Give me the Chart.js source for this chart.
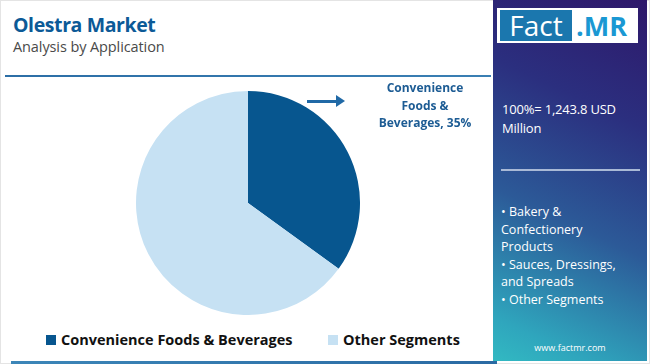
<!DOCTYPE html>
<html>
<head>
<meta charset="utf-8">
<script src="https://cdn.jsdelivr.net/npm/chart.js@4"></script>
<style>
  html, body { margin:0; padding:0; }
  body { width:650px; height:364px; position:relative; overflow:hidden; background:#fff; font-family:"Open Sans", sans-serif; }
  .frame { position:absolute; left:0; top:0; width:648px; height:362px; border:1px solid #e4e4e4; }
  .title { position:absolute; left:13px; top:11px; font-size:19.5px; font-weight:700; color:#0c5a97; letter-spacing:-0.4px; }
  .subtitle { position:absolute; left:13px; top:37px; font-size:14.5px; color:#4a4a4a; letter-spacing:-0.1px; }
  .hline { position:absolute; left:5px; top:75px; width:486px; height:2px; background:linear-gradient(90deg,#2c6ea6,#3a7fb3); }
  .bline { position:absolute; left:11px; top:361px; width:486px; height:3px; background:linear-gradient(90deg,#3c86b8,#2a6aa3); }
  #wrap { position:absolute; left:136px; top:91px; width:224px; height:224px; }
  .arrow { position:absolute; left:307px; top:100px; width:32px; height:3px; background:#2069a6; }
  .arrowhead { position:absolute; left:336px; top:95px; width:0; height:0; border-top:6.5px solid transparent; border-bottom:6.5px solid transparent; border-left:9px solid #2069a6; }
  .callout { position:absolute; left:360px; top:79px; width:130px; text-align:center; font-size:12px; font-weight:700; color:#1d5c94; line-height:17.5px; }
  .legend { position:absolute; top:330px; left:0; width:492px; height:20px; font-size:14.5px; font-weight:700; color:#111; }
  .legend .item { position:absolute; top:0; white-space:nowrap; }
  .legend .sw { display:inline-block; width:10px; height:10px; vertical-align:middle; margin-right:5px; position:relative; top:-1px; }
  .panel { position:absolute; left:493px; top:0; width:154px; height:361px; background:linear-gradient(205deg,#2e186a 0%,#2b2f7f 30%,#2c5a98 60%,#2fa6bd 90%,#32b9c2 100%); }
  .logo { position:absolute; left:4px; top:8px; width:141px; height:35px; background:#fff; }
  .logo .fact { position:absolute; left:3px; top:2px; width:72px; height:31px; background:#1b77ae; color:#fff; font-size:28px; line-height:31px; text-align:center; }
  .logo .mr { position:absolute; left:79px; top:2px; height:31px; color:#1a98d3; font-size:27px; line-height:31px; font-weight:700; }
  .total { position:absolute; left:9px; top:100px; color:#fff; font-size:13px; line-height:19px; letter-spacing:-0.2px; }
  .sep { position:absolute; left:8px; top:169px; width:139px; height:2px; background:#a9b9d6; }
  .segs { position:absolute; left:8px; top:203px; color:#fff; font-size:12.5px; line-height:17.5px; }
  .url { position:absolute; left:0; width:154px; top:341px; text-align:center; color:#fff; font-size:9px; }
</style>
</head>
<body>
<div class="frame"></div>
<div class="title">Olestra Market</div>
<div class="subtitle">Analysis by Application</div>
<div class="hline"></div>
<div id="wrap"><canvas id="pie" width="224" height="224"></canvas></div>
<div class="arrow"></div><div class="arrowhead"></div>
<div class="callout" id="callout"></div>
<div class="legend" id="legend"></div>
<div class="bline"></div>
<div class="panel">
  <div class="logo"><div class="fact">Fact</div><div class="mr">.MR</div></div>
  <div class="total">100%= 1,243.8 USD<br>Million</div>
  <div class="sep"></div>
  <div class="segs" id="segs"></div>
  <div class="url">www.factmr.com</div>
</div>
<script>
const categories = ['Convenience Foods & Beverages', 'Other Segments'];
const shares     = [35, 65];
const couleurs   = ['#07568f', '#c6e1f3'];
const autresSegments = ['Bakery &<br>Confectionery<br>Products', 'Sauces, Dressings,<br>and Spreads', 'Other Segments'];

// Légende
const legendPos = [46, 328];
document.getElementById('legend').innerHTML = categories.map((c, i) => `
  <span class="item" style="left:${legendPos[i]}px">
    <span class="sw" style="background:${couleurs[i]}"></span>${c}
  </span>`).join('');

document.getElementById('callout').innerHTML = `Convenience<br>Foods &amp;<br>Beverages, ${shares[0]}%`;
document.getElementById('segs').innerHTML = autresSegments.map(s => '• ' + s).join('<br>');

new Chart(document.getElementById('pie'), {
  type: 'pie',
  data: {
    labels: categories,
    datasets: [{
      data: shares,
      backgroundColor: couleurs,
      borderWidth: 0
    }]
  },
  options: {
    responsive: false,
    animation: false,
    layout: { padding: 0 },
    plugins: {
      legend: { display: false },
      tooltip: { enabled: false }
    }
  }
});
</script>
</body>
</html>
